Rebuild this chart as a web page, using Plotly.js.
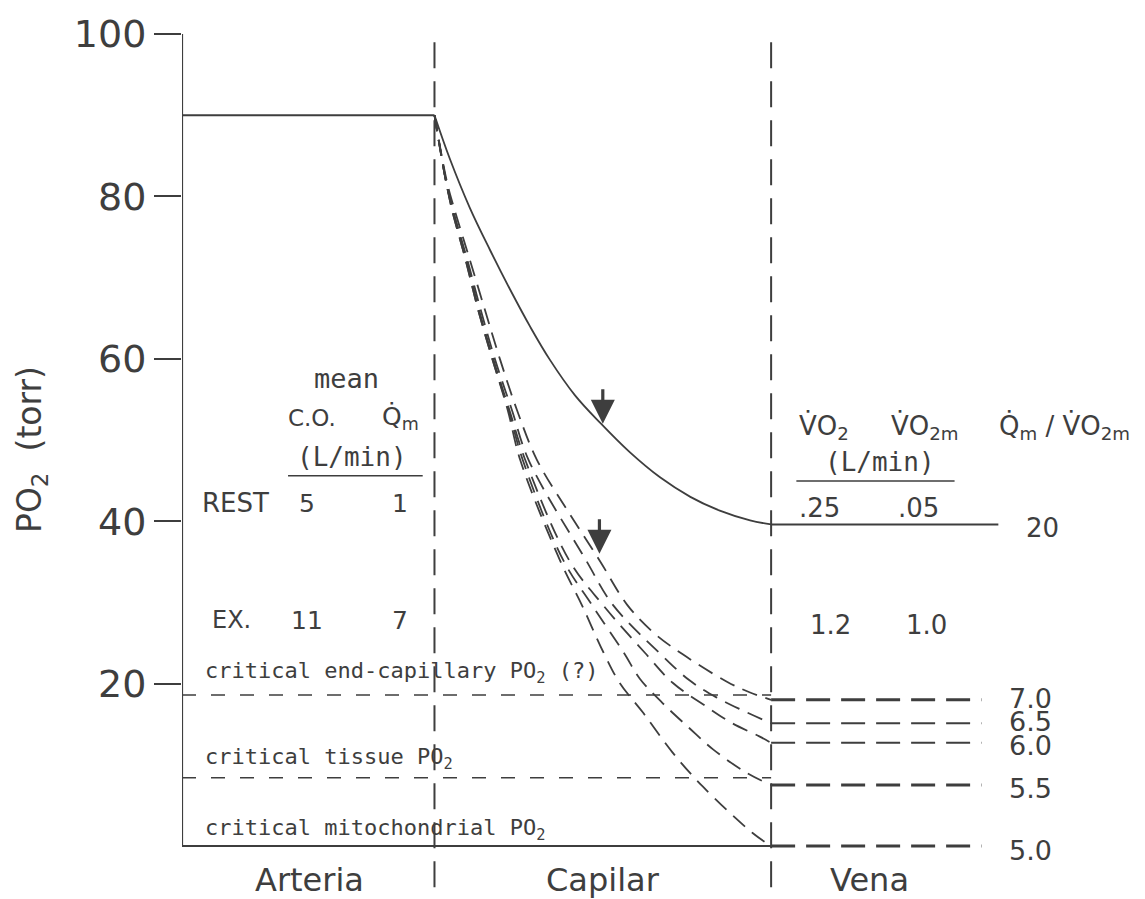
<!DOCTYPE html>
<html>
<head>
<meta charset="utf-8">
<script src="https://cdn.plot.ly/plotly-3.0.1.min.js"></script>
<style>
  html, body { margin: 0; padding: 0; background: #ffffff; }
  #chart { width: 1145px; height: 899px; }
</style>
</head>
<body>
<div id="chart"></div>
<script>
// Position along the vessel: 0 = start of artery, 3 = arteriolar end, 7 = venous start
const segmentBounds = [3, 7];
const segmentNames = ['Arteria', 'Capilar', 'Vena'];
const segmentLabelX = [1.52, 5.0, 8.17];

// Arterial PO2 (torr)
const arterialX = [0, 3];
const arterialY = [90, 90];

// Rest: capillary PO2 profile and venous PO2
const restX = [3.00, 3.18, 3.42, 3.66, 3.90, 4.14, 4.37, 4.67, 4.97, 5.32, 5.68, 6.04, 6.39, 6.75, 7.00];
const restY = [90.0, 84.7, 78.6, 73.4, 68.5, 63.9, 59.9, 55.5, 52.1, 48.5, 45.4, 43.0, 41.3, 40.1, 39.6];
const restVenousEndX = 9.7;
const restRatio = '20';

// Exercise: capillary PO2 profiles for each Qm/VO2m ratio
const exRatios = ['7.0', '6.5', '6.0', '5.5', '5.0'];
const ex70X = [3.00, 3.15, 3.24, 3.42, 3.60, 3.78, 3.98, 4.22, 4.60, 4.96, 5.29, 5.60, 5.95, 6.48, 6.75, 7.00];
const ex70Y = [90.0, 81.7, 78.3, 72.2, 66.0, 59.9, 53.7, 47.5, 41.0, 35.2, 29.7, 26.3, 23.6, 20.2, 18.9, 18.0];
const ex65X = [3.00, 3.14, 3.22, 3.39, 3.55, 3.72, 3.92, 4.12, 4.80, 5.12, 5.67, 6.03, 6.35, 6.66, 7.00];
const ex65Y = [90.0, 81.7, 78.3, 72.2, 66.0, 59.9, 53.7, 47.5, 35.2, 29.7, 23.8, 20.4, 18.3, 16.7, 15.1];
const ex60X = [3.00, 3.14, 3.22, 3.38, 3.53, 3.70, 3.89, 4.08, 4.60, 5.00, 5.50, 5.83, 6.24, 6.54, 6.86, 7.00];
const ex60Y = [90.0, 81.7, 78.3, 72.2, 66.0, 59.9, 53.7, 47.5, 35.2, 29.7, 23.8, 20.1, 17.1, 15.1, 13.5, 12.7];
const ex55X = [3.00, 3.14, 3.21, 3.37, 3.52, 3.69, 3.88, 4.05, 4.53, 4.87, 5.25, 5.44, 5.71, 6.03, 6.31, 6.71, 7.00];
const ex55Y = [90.0, 81.7, 78.3, 72.2, 66.0, 59.9, 53.7, 47.5, 35.2, 29.7, 23.8, 20.6, 17.6, 14.5, 11.9, 9.0, 7.5];
const ex50X = [3.00, 3.14, 3.21, 3.37, 3.52, 3.69, 3.87, 4.02, 4.49, 4.75, 5.01, 5.20, 5.48, 5.83, 6.19, 6.78, 7.00];
const ex50Y = [90.0, 81.7, 78.3, 72.2, 66.0, 59.9, 53.7, 47.5, 35.2, 29.7, 23.8, 20.1, 16.4, 11.5, 7.3, 1.6, 0.0];
const exVenousEndX = 9.5;

// Critical PO2 thresholds (torr)
const criticalNames = ['critical end-capillary PO<sub>2</sub> (?)', 'critical tissue PO<sub>2</sub>', 'critical mitochondrial PO<sub>2</sub>'];
const criticalY = [18.6, 8.4, 0];

// Flow table values
const tableRows = ['REST', 'EX.'];
const cardiacOutput = ['5', '11'];
const muscleFlow = ['1', '7'];
const totalVO2 = ['.25', '1.2'];
const muscleVO2 = ['.05', '1.0'];

// Axis ticks
const yTicks = [20, 40, 60, 80, 100];

const INK = '#3e3e3e';
const FONT = 'DejaVu Sans, Liberation Sans, sans-serif';
const LETTERING = 'DejaVu Sans Mono, Liberation Mono, monospace';

const traces = [];
function addLine(x, y, opts) {
  traces.push(Object.assign({
    type: 'scatter', mode: 'lines', x: x, y: y, hoverinfo: 'skip',
    line: Object.assign({ color: INK, width: 2 }, opts || {})
  }));
}

// arterial segment
addLine(arterialX, arterialY, { width: 2 });
// rest capillary + venous
addLine(restX, restY, { shape: 'spline', smoothing: 1, width: 1.8 });
addLine([restX[restX.length - 1], restVenousEndX], [restY[restY.length - 1], restY[restY.length - 1]], { width: 2 });

// exercise capillary curves and venous segments
const exCurves = [[ex70X, ex70Y], [ex65X, ex65Y], [ex60X, ex60Y], [ex55X, ex55Y], [ex50X, ex50Y]];
const heavyVenous = [true, false, false, true, true];
exCurves.forEach(function (c, i) {
  addLine(c[0], c[1], { shape: 'spline', smoothing: 1, dash: '16px,9px', width: 1.8 });
  const endY = c[1][c[1].length - 1];
  addLine([segmentBounds[1], exVenousEndX], [endY, endY], { dash: '24px,11px', width: heavyVenous[i] ? 3 : 2 });
});

// critical thresholds across artery and capillary
criticalY.forEach(function (v, i) {
  if (i === criticalY.length - 1) {
    addLine([0, segmentBounds[1]], [v, v], { width: 2.2 });
  } else {
    addLine([0, segmentBounds[1]], [v, v], { dash: '14px,15px', width: 1.6 });
  }
});

const shapes = [];
// vertical y axis line
shapes.push({ type: 'line', xref: 'x', yref: 'y', x0: 0, x1: 0, y0: 0, y1: 100,
  line: { color: INK, width: 2.2 } });
// segment dividers
segmentBounds.forEach(function (b) {
  shapes.push({ type: 'line', xref: 'x', yref: 'y', x0: b, x1: b, y0: 99, y1: -6.2,
    line: { color: INK, width: 2, dash: '26px,13px' } });
});
// table header underlines
shapes.push({ type: 'line', xref: 'x', yref: 'y', x0: 1.26, x1: 2.86, y0: 45.6, y1: 45.6,
  line: { color: INK, width: 1.6 } });
shapes.push({ type: 'line', xref: 'x', yref: 'y', x0: 7.30, x1: 9.18, y0: 44.95, y1: 44.95,
  line: { color: INK, width: 1.6 } });

const annotations = [];
function label(text, x, y, size, opts, family) {
  annotations.push(Object.assign({
    text: text, x: x, y: y, xref: 'x', yref: 'y', showarrow: false,
    font: { family: family || FONT, size: size, color: INK }, xanchor: 'center', yanchor: 'middle'
  }, opts || {}));
}

// left table
label('mean', 1.95, 57.6, 27, null, LETTERING);
label('C.O.', 1.545, 52.7, 23);
label('Q\u0307<sub>m</sub>', 2.60, 52.7, 25);
label('(L/min)', 2.02, 47.9, 26, null, LETTERING);
const tableY = [42.2, 27.8];
tableRows.forEach(function (r, i) {
  label(r, i === 0 ? 0.64 : 0.59, tableY[i], i === 0 ? 26 : 24);
  label(cardiacOutput[i], 1.48, tableY[i], 25);
  label(muscleFlow[i], 2.59, tableY[i], 25);
});

// right table
label('V\u0307O<sub>2</sub>', 7.63, 51.6, 26);
label('V\u0307O<sub>2m</sub>', 8.83, 51.6, 26);
label('Q\u0307<sub>m</sub> / V\u0307O<sub>2m</sub>', 10.49, 51.6, 26);
label('(L/min)', 8.29, 47.3, 26, null, LETTERING);
const rightTableY = [41.6, 27.2];
totalVO2.forEach(function (v, i) { label(v, i === 0 ? 7.58 : 7.70, rightTableY[i], 26); });
muscleVO2.forEach(function (v, i) { label(v, i === 0 ? 8.75 : 8.85, rightTableY[i], 26); });
label(restRatio, 10.23, restY[restY.length - 1] - 0.4, 26);

// ratio labels at the venous end of each exercise curve
const ratioLabelY = [18.2, 15.3, 12.4, 7.1, -0.5];
exRatios.forEach(function (r, i) { label(r, 10.08, ratioLabelY[i], 27); });

// critical threshold labels
const criticalLabelY = [21.4, 10.8, 2.0];
criticalNames.forEach(function (n, i) {
  label(n, 0.25, criticalLabelY[i], 22, { xanchor: 'left' }, LETTERING);
});

// segment names
segmentNames.forEach(function (n, i) { label(n, segmentLabelX[i], -4.2, 32); });

// arrows marking the mid-capillary point
annotations.push({ x: 5.0, y: 52.0, xref: 'x', yref: 'y', ax: 0, ay: -36, text: '',
  showarrow: true, arrowhead: 2, arrowsize: 1.5, arrowwidth: 3.2, arrowcolor: INK, standoff: 0 });
annotations.push({ x: 4.96, y: 36.0, xref: 'x', yref: 'y', ax: 0, ay: -36, text: '',
  showarrow: true, arrowhead: 2, arrowsize: 1.5, arrowwidth: 3.2, arrowcolor: INK, standoff: 0 });

const layout = {
  width: 1145, height: 899,
  margin: { l: 182, r: 12, t: 0, b: 0 },
  paper_bgcolor: '#ffffff', plot_bgcolor: '#ffffff',
  showlegend: false,
  xaxis: { range: [0, 11.3], visible: false, fixedrange: true },
  yaxis: {
    range: [-6.53, 104.19], tickvals: yTicks, ticktext: yTicks.map(String),
    ticks: 'outside', ticklen: 27, tickwidth: 2, tickcolor: INK,
    tickfont: { family: FONT, size: 38, color: INK },
    showgrid: false, zeroline: false, showline: false, fixedrange: true,
    title: { text: 'PO<sub>2</sub>  (torr)', font: { family: FONT, size: 33, color: INK }, standoff: 22 }
  },
  shapes: shapes,
  annotations: annotations
};

Plotly.newPlot('chart', traces, layout, { displayModeBar: false, staticPlot: true });
</script>
</body>
</html>
